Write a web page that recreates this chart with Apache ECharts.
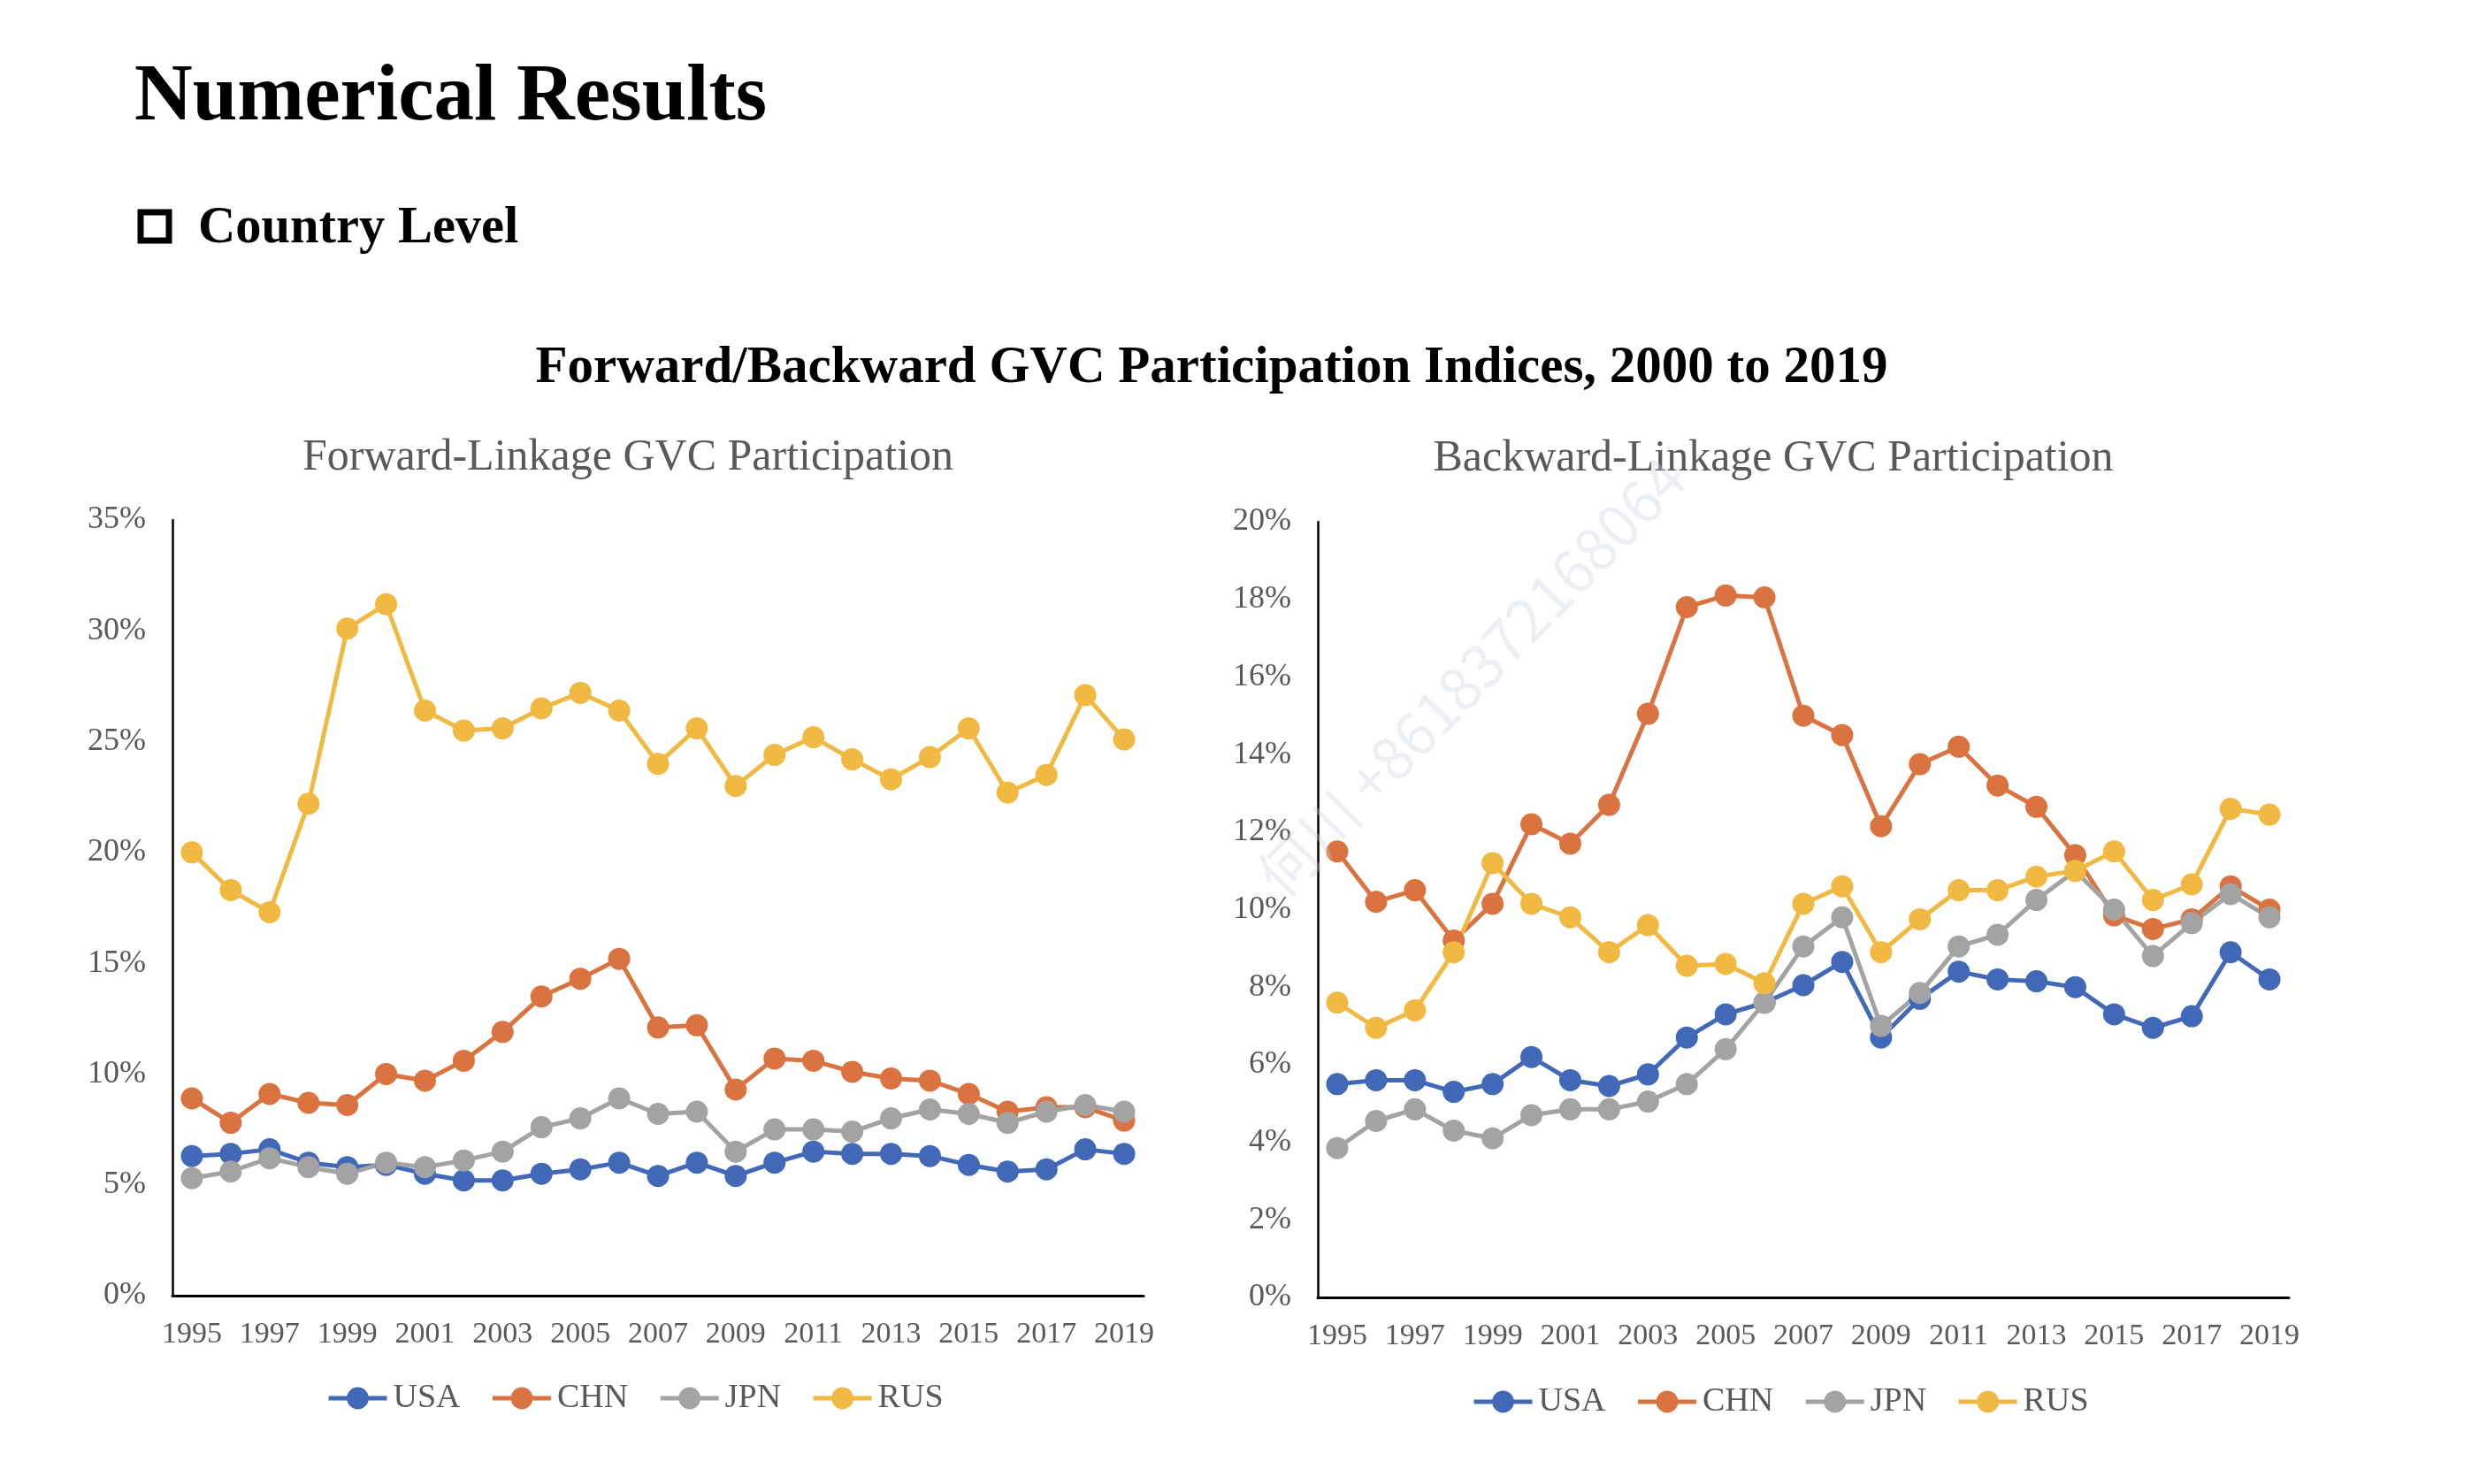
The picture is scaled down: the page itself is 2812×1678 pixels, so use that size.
<!DOCTYPE html>
<html>
<head>
<meta charset="utf-8">
<script src="https://cdn.jsdelivr.net/npm/echarts@6/dist/echarts.min.js"></script>
<style>
html,body{margin:0;padding:0;background:#ffffff;}
#c{width:2812px;height:1678px;}
</style>
</head>
<body>
<div id="c"></div>
<script>
// ---- data ----
const years = ['1995','1996','1997','1998','1999','2000','2001','2002','2003','2004','2005','2006','2007','2008','2009','2010','2011','2012','2013','2014','2015','2016','2017','2018','2019'];
const countries = ['USA','CHN','JPN','RUS'];

// Forward-linkage GVC participation (%)
const fwdUSA = [6.3,6.4,6.6,6.0,5.8,5.9,5.5,5.2,5.2,5.5,5.7,6.0,5.4,6.0,5.4,6.0,6.5,6.4,6.4,6.3,5.9,5.6,5.7,6.6,6.4];
const fwdCHN = [8.9,7.8,9.1,8.7,8.6,10.0,9.7,10.6,11.9,13.5,14.3,15.2,12.1,12.2,9.3,10.7,10.6,10.1,9.8,9.7,9.1,8.3,8.5,8.5,7.9];
const fwdJPN = [5.3,5.6,6.2,5.8,5.5,6.0,5.8,6.1,6.5,7.6,8.0,8.9,8.2,8.3,6.5,7.5,7.5,7.4,8.0,8.4,8.2,7.8,8.3,8.6,8.3];
const fwdRUS = [20.0,18.3,17.3,22.2,30.1,31.2,26.4,25.5,25.6,26.5,27.2,26.4,24.0,25.6,23.0,24.4,25.2,24.2,23.3,24.3,25.6,22.7,23.5,27.1,25.1];

// Backward-linkage GVC participation (%)
const bwdUSA = [5.5,5.6,5.6,5.3,5.5,6.2,5.6,5.45,5.75,6.7,7.3,7.6,8.05,8.65,6.7,7.7,8.4,8.2,8.15,8.0,7.3,6.95,7.25,8.9,8.2];
const bwdCHN = [11.5,10.2,10.5,9.2,10.15,12.2,11.7,12.7,15.05,17.8,18.1,18.05,15.0,14.5,12.15,13.75,14.2,13.2,12.65,11.4,9.85,9.5,9.75,10.6,10.0];
const bwdJPN = [3.85,4.55,4.85,4.3,4.1,4.7,4.85,4.85,5.05,5.5,6.4,7.6,9.05,9.8,7.0,7.85,9.05,9.35,10.25,11.0,10.0,8.8,9.65,10.4,9.8];
const bwdRUS = [7.6,6.95,7.4,8.9,11.2,10.15,9.8,8.9,9.6,8.55,8.6,8.1,10.15,10.6,8.9,9.75,10.5,10.5,10.85,11.0,11.5,10.25,10.65,12.6,12.45];

const fwdTicks = {min:0, max:35, interval:5};
const bwdTicks = {min:0, max:20, interval:2};

// ---- style ----
const colors = {USA:'#4169B8', CHN:'#DA7340', JPN:'#A3A3A3', RUS:'#F1B941'};
const serif = 'Liberation Serif';
const grayText = '#595959';

function lineSeries(name, data, idx){
  return {
    name: name, type: 'line', xAxisIndex: idx, yAxisIndex: idx, data: data,
    symbol: 'circle', symbolSize: 25, smooth: false,
    lineStyle: {color: colors[name], width: 5},
    itemStyle: {color: colors[name]},
    emphasis: {disabled: true},
    animation: false
  };
}
function xAx(idx){
  return {
    type:'category', gridIndex: idx, data: years, boundaryGap: true,
    axisLine: {show:true, lineStyle:{color:'#000', width:3}},
    axisTick: {show:false},
    splitLine: {show:false},
    axisLabel: {interval:1, fontFamily: serif, fontSize: 34, color: grayText, margin: 27}
  };
}
function yAx(idx, t){
  return {
    type:'value', gridIndex: idx, min: t.min, max: t.max, interval: t.interval,
    axisLine: {show:true, lineStyle:{color:'#000', width:2.5}},
    axisTick: {show:false},
    splitLine: {show:false},
    axisLabel: {formatter:'{value}%', fontFamily: serif, fontSize: 36, color: grayText, margin: 30}
  };
}
function legend(left, top){
  return {
    left: left, top: top, data: countries, itemWidth: 66, itemHeight: 31, itemGap: 34,
    lineStyle: {width: 5},
    textStyle: {fontFamily: serif, fontSize: 38, color: grayText, padding: [0,0,0,2]},
    selectedMode: false
  };
}

const chart = echarts.init(document.getElementById('c'), null, {renderer:'canvas'});
chart.setOption({
  backgroundColor: '#ffffff',
  animation: false,
  grid: [
    {left:195, top:588, width:1098, height:877},
    {left:1490, top:590, width:1098, height:877}
  ],
  xAxis: [xAx(0), xAx(1)],
  yAxis: [yAx(0, fwdTicks), yAx(1, bwdTicks)],
  legend: [legend(364, 1557), legend(1659, 1561)],
  series: [
    lineSeries('USA', fwdUSA, 0), lineSeries('CHN', fwdCHN, 0), lineSeries('JPN', fwdJPN, 0), lineSeries('RUS', fwdRUS, 0),
    lineSeries('USA', bwdUSA, 1), lineSeries('CHN', bwdCHN, 1), lineSeries('JPN', bwdJPN, 1), lineSeries('RUS', bwdRUS, 1)
  ],
  graphic: [
    {type:'text', x:152, y:111, style:{text:'Numerical Results', font:'bold 91px "Liberation Serif"', fill:'#000', align:'left', verticalAlign:'middle'}},
    {type:'rect', shape:{x:159, y:240, width:32, height:32}, style:{fill:'#fff', stroke:'#000', lineWidth:7}},
    {type:'text', x:224, y:259, style:{text:'Country Level', font:'bold 58.5px "Liberation Serif"', fill:'#000', align:'left', verticalAlign:'middle'}},
    {type:'text', x:1370, y:417, style:{text:'Forward/Backward GVC Participation Indices, 2000 to 2019', font:'bold 59px "Liberation Serif"', fill:'#000', align:'center', verticalAlign:'middle'}},
    {type:'text', x:710, y:518, style:{text:'Forward-Linkage GVC Participation', font:'50px "Liberation Serif"', fill:grayText, align:'center', verticalAlign:'middle'}},
    {type:'text', x:2005, y:519, style:{text:'Backward-Linkage GVC Participation', font:'50px "Liberation Serif"', fill:grayText, align:'center', verticalAlign:'middle'}},
    {type:'text', x:1663, y:765, rotation: 0.80, z: 100, style:{text:'何川 +8618372168064', font:'66px "Noto Sans CJK SC"', fill:'rgba(200,208,220,0.35)', align:'center', verticalAlign:'middle'}}
  ]
});
</script>
</body>
</html>
